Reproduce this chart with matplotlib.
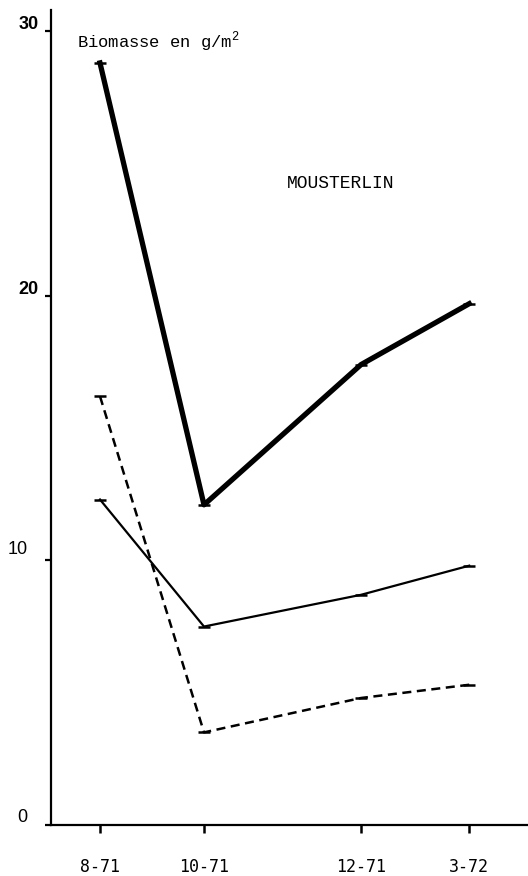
import matplotlib
matplotlib.use("Agg")
import matplotlib.pyplot as plt
from matplotlib.transforms import ScaledTranslation

plt.rcParams['lines.scale_dashes'] = False
plt.rcParams['mathtext.fontset'] = 'custom'
plt.rcParams['mathtext.rm'] = 'Liberation Mono'

# Data
dates = ["8-71", "10-71", "12-71", "3-72"]
x_pos = [0.0, 1.0, 2.51, 3.55]          # hand-drawn spacing of sampling dates
total = [28.8, 12.1, 17.4, 19.7]        # thick solid line
serie_a = [12.3, 7.5, 8.7, 9.8]         # thin solid line
serie_b = [16.2, 3.5, 4.8, 5.3]         # dashed line
y_ticks = [0, 10, 20, 30]

W, H = 528, 876
fig = plt.figure(figsize=(W / 100, H / 100), dpi=100)
ax = fig.add_axes([51 / W, (H - 825) / H, (W - 51) / W, (825 - 10) / H])

mk = dict(marker='_', markersize=9, markeredgewidth=1.8, color='black')
ax.plot(x_pos, total, lw=3.8, solid_joinstyle='round', **mk)
ax.plot(x_pos, serie_a, lw=1.6, **mk)
ax.plot(x_pos, serie_b, lw=1.8, dashes=(6.5, 4), **mk)

ax.set_xlim(-0.471, 4.115)
ax.set_ylim(0, 30.8)

for s in ['top', 'right']:
    ax.spines[s].set_visible(False)
for s in ['left', 'bottom']:
    ax.spines[s].set_linewidth(1.6)
    ax.spines[s].set_color('black')

ax.set_xticks(x_pos)
ax.set_xticklabels(dates, family='DejaVu Sans Mono', fontsize=12)
ax.tick_params(axis='x', direction='out', length=6, width=1.8, pad=18)

ax.set_yticks(y_ticks)
ax.set_yticklabels([str(v) for v in y_ticks], family='Liberation Sans', fontsize=13)
ax.tick_params(axis='y', direction='out', length=4, width=1.6, pad=5)
for lab in ax.get_yticklabels():
    t = lab.get_text()
    if t in ('20', '30'):
        lab.set_fontweight('bold')
        dx, dy = 0, 6
    elif t == '10':
        dx, dy = -8, 9
    else:
        dx, dy = -8, 7
    lab.set_transform(lab.get_transform() + ScaledTranslation(dx / 72, dy / 72, fig.dpi_scale_trans))

ax.text(77 / W, (H - 42) / H, r'Biomasse en g/m$^\mathregular{2}$', transform=fig.transFigure,
        family='Liberation Mono', fontsize=12.3, va='center', ha='left')
ax.text(287 / W, (H - 183) / H, 'MOUSTERLIN', transform=fig.transFigure,
        family='Liberation Mono', fontsize=13, va='center', ha='left')

fig.savefig('out.png', dpi=100)
